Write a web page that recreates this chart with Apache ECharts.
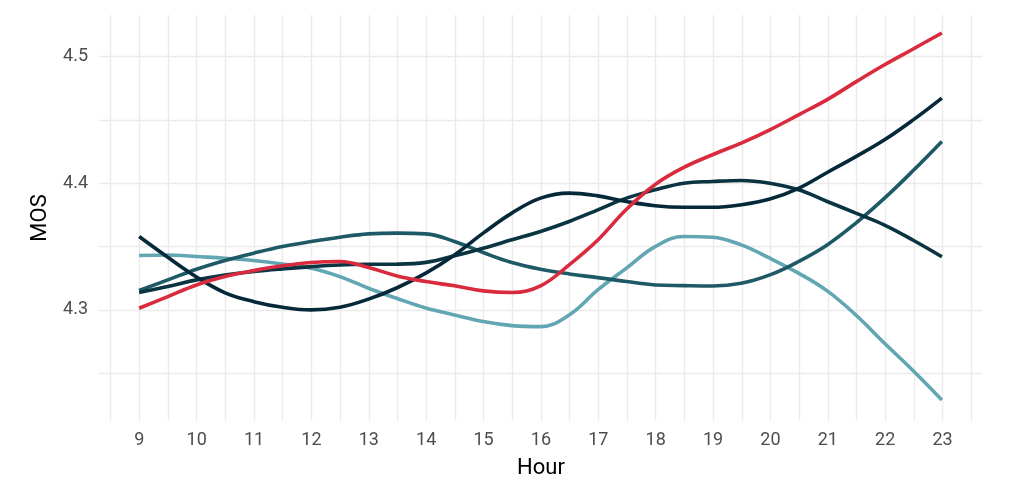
<!DOCTYPE html>
<html>
<head>
<meta charset="utf-8">
<script src="https://cdn.jsdelivr.net/npm/echarts@6/dist/echarts.min.js"></script>
<style>
  html, body { margin: 0; padding: 0; background: #fff; }
  #chart { width: 1030px; height: 491px; }
</style>
</head>
<body>
<div id="chart"></div>
<script>
// data (smoothed MOS, every half hour 9 .. 23)
var hours = [9, 9.5, 10, 10.5, 11, 11.5, 12, 12.5, 13, 13.5, 14, 14.5, 15, 15.5, 16, 16.5,
             17, 17.5, 18, 18.5, 19, 19.5, 20, 20.5, 21, 21.5, 22, 22.5, 23];
var redLine   = [4.3013, 4.3105, 4.3197, 4.3263, 4.331, 4.3348, 4.3374, 4.3382, 4.3335, 4.3268,
                 4.3224, 4.319, 4.315, 4.3137, 4.319, 4.3356, 4.3552, 4.3795, 4.399, 4.4125,
                 4.4225, 4.4317, 4.4422, 4.454, 4.466, 4.48, 4.4935, 4.506, 4.5186];
var darkA     = [4.3579, 4.3415, 4.326, 4.3135, 4.3065, 4.3021, 4.300, 4.3021, 4.3085, 4.3175,
                 4.329, 4.3434, 4.3606, 4.3764, 4.3882, 4.3922, 4.390, 4.3856, 4.3822, 4.381,
                 4.381, 4.383, 4.3875, 4.396, 4.4085, 4.421, 4.4343, 4.45, 4.4672];
var darkB     = [4.3137, 4.3184, 4.3237, 4.3276, 4.3303, 4.3324, 4.3342, 4.3355, 4.336, 4.3361,
                 4.3375, 4.3427, 4.3487, 4.3553, 4.3619, 4.3698, 4.379, 4.3882, 4.3948, 4.400,
                 4.4014, 4.4022, 4.400, 4.3948, 4.3856, 4.3764, 4.367, 4.355, 4.342];
var tealLine  = [4.3153, 4.3237, 4.3321, 4.339, 4.3448, 4.350, 4.354, 4.3574, 4.360, 4.3606,
                 4.360, 4.354, 4.3453, 4.3374, 4.3321, 4.3284, 4.3255, 4.3224, 4.3197, 4.3192,
                 4.3189, 4.321, 4.3276, 4.3382, 4.3513, 4.3685, 4.3882, 4.41, 4.433];
var lightLine = [4.3429, 4.3434, 4.3421, 4.3408, 4.339, 4.3363, 4.3329, 4.3263, 4.3171, 4.309,
                 4.3015, 4.296, 4.2908, 4.2876, 4.2868, 4.296, 4.3158, 4.333, 4.350, 4.3579,
                 4.3574, 4.3513, 4.3408, 4.329, 4.315, 4.296, 4.2737, 4.252, 4.2289];

var xRange = [8.5, 23.5];        // first and last x break (minor)
var yRange = [4.25, 4.5];        // first and last y break (minor)

function pairs(vals) {
  return hours.map(function (h, i) { return [h, vals[i]]; });
}

var myChart = echarts.init(document.getElementById('chart'));

var gridColor = '#ebebeb';
var lineSeries = function (name, vals, color) {
  return {
    name: name,
    type: 'line',
    xAxisIndex: 0,
    yAxisIndex: 0,
    smooth: 0.4,
    showSymbol: false,
    lineStyle: { color: color, width: 3.6 },
    data: pairs(vals)
  };
};

var option = {
  animation: false,
  backgroundColor: '#fff',
  grid: [
    // data panel
    { left: 99, top: 15, width: 883, height: 406 },
    // vertical grid lines + x labels
    { left: 110.6, top: 15, width: 860.7, height: 406 },
    // horizontal grid lines + y labels
    { left: 99, top: 56.5, width: 883, height: 316.8 }
  ],
  xAxis: [
    { gridIndex: 0, type: 'value', min: 8.3, max: 23.7, show: false },
    {
      gridIndex: 1, type: 'value', min: xRange[0], max: xRange[1], interval: 0.5,
      axisLine: { show: false },
      axisTick: { show: false },
      axisLabel: {
        color: '#4d4d4d', fontSize: 18, fontFamily: 'Roboto', margin: 10,
        formatter: function (v) { return v % 1 === 0 ? String(v) : ''; }
      },
      splitLine: { show: true, lineStyle: { color: gridColor, width: 1.4 } },
      name: 'Hour',
      nameLocation: 'middle',
      nameGap: 36,
      nameTextStyle: { color: '#000', fontSize: 22, fontFamily: 'Roboto' }
    },
    { gridIndex: 2, type: 'value', min: 0, max: 1, show: false }
  ],
  yAxis: [
    {
      gridIndex: 0, type: 'value', min: 4.2123, max: 4.5328,
      axisLine: { show: false }, axisTick: { show: false },
      axisLabel: { show: false }, splitLine: { show: false },
      name: 'MOS',
      nameLocation: 'middle',
      nameGap: 48,
      nameTextStyle: { color: '#000', fontSize: 22, fontFamily: 'Roboto' }
    },
    { gridIndex: 1, type: 'value', min: 0, max: 1, show: false },
    {
      gridIndex: 2, type: 'value', min: yRange[0], max: yRange[1], interval: 0.05,
      axisLine: { show: false },
      axisTick: { show: false },
      axisLabel: {
        color: '#4d4d4d', fontSize: 18, fontFamily: 'Roboto', margin: 11,
        formatter: function (v) {
          var r = Math.round(v * 100);
          return r % 10 === 0 ? (r / 100).toFixed(1) : '';
        }
      },
      splitLine: { show: true, lineStyle: { color: gridColor, width: 1.4 } }
    }
  ],
  series: [
    lineSeries('light', lightLine, '#62a6b4'),
    lineSeries('teal', tealLine, '#1e5a66'),
    lineSeries('darkB', darkB, '#0b3442'),
    lineSeries('darkA', darkA, '#06293a'),
    lineSeries('red', redLine, '#d92b3d')
  ]
};

myChart.setOption(option);

window.addEventListener('resize', function () {
  myChart.resize();
});
</script>
</body>
</html>
